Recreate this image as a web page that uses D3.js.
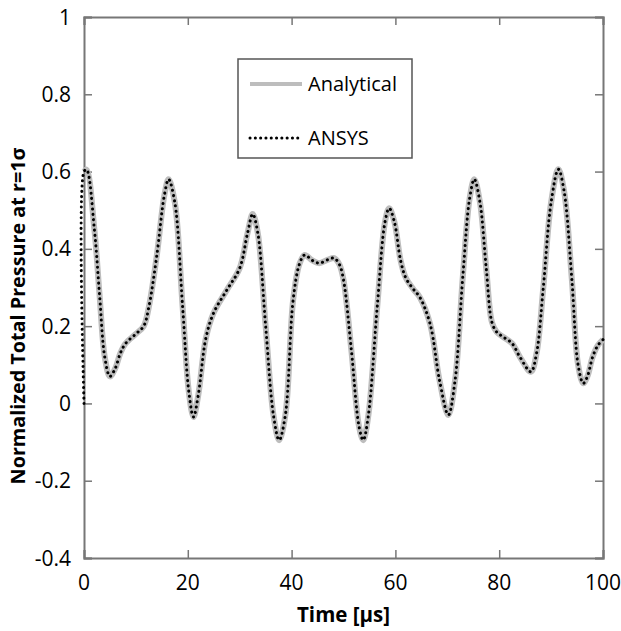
<!DOCTYPE html>
<html>
<head>
<meta charset="utf-8">
<script src="https://cdn.jsdelivr.net/npm/d3@7"></script>
<style>
  body { margin: 0; background: #fff; }
  svg text { font-family: "Open Sans", Lato, sans-serif; fill: #000; }
</style>
</head>
<body>
<svg></svg>
<script>
// time in microseconds
const timeUs = [0, 0.5, 2, 3, 4, 5, 6, 7, 8, 10, 11.5, 12.5, 14, 15.5, 16.3, 17.5, 19, 20.2, 21.1, 22,
  23.5, 25, 27.5, 30, 31.5, 32.5, 33.5, 35, 36.5, 37.6, 38.8, 40.3, 41.5, 42.5, 44, 45.3, 47, 48.2, 49.2, 50,
  51.5, 53, 53.8, 54.8, 56.5, 58, 58.8, 59.8, 61, 62, 63.5, 64.7, 66.7, 68.5, 70.2, 71.5, 73, 74.3, 75.2, 76.3,
  77.5, 78.6, 79.5, 81, 82.5, 84, 86.1, 87.2, 88.5, 90, 91.4, 92.5, 94, 95.2, 96.2, 97, 98, 99, 100]
const analytical = [0.60, 0.605, 0.45, 0.28, 0.12, 0.07, 0.09, 0.13, 0.155, 0.18, 0.20, 0.25, 0.38, 0.54, 0.58, 0.52, 0.25, 0.03, -0.035, 0.02,
  0.17, 0.235, 0.293, 0.35, 0.44, 0.49, 0.44, 0.20, -0.03, -0.095, -0.03, 0.268, 0.36, 0.384, 0.37, 0.363, 0.372, 0.376, 0.36, 0.32,
  0.14, -0.06, -0.095, -0.03, 0.25, 0.47, 0.505, 0.47, 0.37, 0.325, 0.295, 0.275, 0.205, 0.06, -0.03, 0.06, 0.33, 0.53, 0.58, 0.52,
  0.35, 0.21, 0.185, 0.17, 0.155, 0.12, 0.082, 0.13, 0.30, 0.52, 0.606, 0.55, 0.32, 0.10, 0.052, 0.07, 0.12, 0.15, 0.165]
// ANSYS overlays the analytical curve, but starts from zero at t = 0
const ansysStart = [[0, 0]]
const ansys = ansysStart.concat(timeUs.map((t, i) => [t, analytical[i]]))

const xTicks = [0, 20, 40, 60, 80, 100]
const yTicks = [-0.4, -0.2, 0, 0.2, 0.4, 0.6, 0.8, 1]
const legendItems = ['Analytical', 'ANSYS']

const width = 621
const height = 631
const margin = { top: 17, right: 18, bottom: 73, left: 84 }
const axisColor = '#777'

const svg = d3.select('svg')
  .attr('width', width)
  .attr('height', height)

const xScale = d3.scaleLinear().domain([0, 100]).range([margin.left, width - margin.right])
const yScale = d3.scaleLinear().domain([-0.4, 1]).range([height - margin.bottom, margin.top])

// frame with inward ticks on all four sides
const bottomAxis = d3.axisTop(xScale).tickValues(xTicks).tickSize(8).tickFormat('')
const topAxis = d3.axisBottom(xScale).tickValues(xTicks).tickSize(8).tickFormat('')
const leftAxis = d3.axisRight(yScale).tickValues(yTicks).tickSize(8).tickFormat('')
const rightAxis = d3.axisLeft(yScale).tickValues(yTicks).tickSize(8).tickFormat('')

const axes = [
  [bottomAxis, 'translate(0,' + (height - margin.bottom) + ')'],
  [topAxis, 'translate(0,' + margin.top + ')'],
  [leftAxis, 'translate(' + margin.left + ',0)'],
  [rightAxis, 'translate(' + (width - margin.right) + ',0)']
]
axes.forEach(([ax, tr]) => {
  const g = svg.append('g').attr('transform', tr).call(ax)
  g.selectAll('path').attr('stroke', axisColor).attr('stroke-width', 2)
  g.selectAll('line').attr('stroke', axisColor).attr('stroke-width', 1.5)
})

// tick labels
svg.append('g').selectAll('text')
  .data(xTicks)
  .enter().append('text')
  .attr('x', d => xScale(d))
  .attr('y', height - margin.bottom + 32)
  .attr('text-anchor', 'middle')
  .style('font-size', '21px')
  .text(d => d)

svg.append('g').selectAll('text')
  .data(yTicks)
  .enter().append('text')
  .attr('x', margin.left - 13)
  .attr('y', d => yScale(d))
  .attr('dy', '0.36em')
  .attr('text-anchor', 'end')
  .style('font-size', '21px')
  .text(d => String(d))

// axis titles
svg.append('text')
  .attr('x', (margin.left + width - margin.right) / 2)
  .attr('y', 622)
  .attr('text-anchor', 'middle')
  .style('font-size', '20.5px')
  .style('font-weight', 'bold')
  .text('Time [\u00b5s]')

svg.append('text')
  .attr('transform', 'translate(25,316) rotate(-90)')
  .attr('text-anchor', 'middle')
  .style('font-size', '19.8px')
  .style('font-weight', 'bold')
  .text('Normalized Total Pressure at r=1\u03c3')

// curves
const line = d3.line()
  .x(d => xScale(d[0]))
  .y(d => yScale(d[1]))
  .curve(d3.curveCatmullRom.alpha(0.5))

svg.append('path')
  .datum(timeUs.map((t, i) => [t, analytical[i]]))
  .attr('d', line)
  .attr('fill', 'none')
  .attr('stroke', '#bdbdbd')
  .attr('stroke-width', 6)

svg.append('path')
  .datum(ansys)
  .attr('d', line)
  .attr('fill', 'none')
  .attr('stroke', '#000')
  .attr('stroke-width', 3)
  .attr('stroke-linecap', 'round')
  .attr('stroke-dasharray', '0.1 5.2')

// legend
const legend = svg.append('g').attr('transform', 'translate(238,59)')
legend.append('rect')
  .attr('width', 174)
  .attr('height', 99)
  .attr('fill', '#fff')
  .attr('stroke', '#555')
  .attr('stroke-width', 1.5)

const rows = legend.selectAll('.legend')
  .data(legendItems)
  .enter().append('g')
  .attr('class', 'legend')
  .attr('transform', (d, i) => 'translate(0,' + (25 + i * 54) + ')')

rows.append('line')
  .attr('x1', 12)
  .attr('x2', d => d === 'Analytical' ? 64 : 61)
  .attr('stroke', d => d === 'Analytical' ? '#bdbdbd' : '#000')
  .attr('stroke-width', d => d === 'Analytical' ? 4 : 3)
  .attr('stroke-linecap', d => d === 'Analytical' ? 'butt' : 'round')
  .attr('stroke-dasharray', d => d === 'Analytical' ? null : '0.1 5.2')

rows.append('text')
  .attr('x', 70)
  .attr('dy', '0.35em')
  .style('font-size', '20px')
  .text(d => d)
</script>
</body>
</html>
